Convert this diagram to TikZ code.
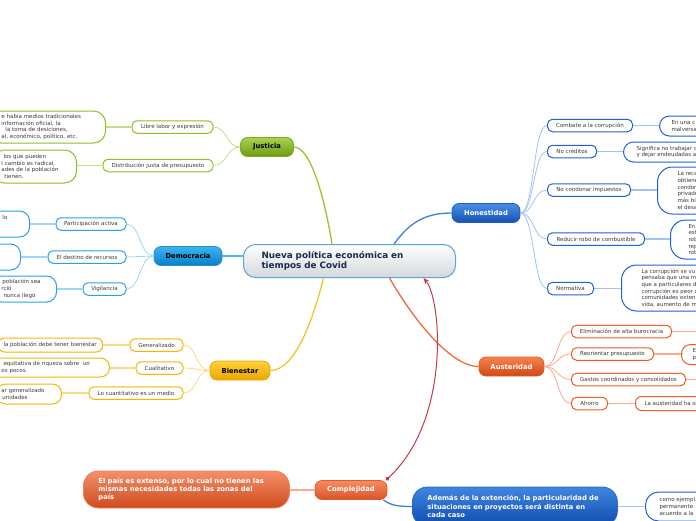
\documentclass[tikz,border=0pt]{standalone}
\usepackage{fontspec}
\setmainfont{DejaVu Sans}
\usetikzlibrary{arrows.meta}

\definecolor{texto}{HTML}{3A3A3A}
\definecolor{marino}{HTML}{172A4F}
\definecolor{centroborde}{HTML}{5AA6DC}
\definecolor{centrogris}{HTML}{D3D8DB}
\definecolor{verdeA}{HTML}{ABD24C}
\definecolor{verdeB}{HTML}{6C9B14}
\definecolor{verdeBorde}{HTML}{7AA81E}
\definecolor{verdeC}{HTML}{8CC21F}
\definecolor{verdeL}{HTML}{C3DF86}
\definecolor{verdeM}{HTML}{99C52A}
\definecolor{celesteA}{HTML}{3DB4EE}
\definecolor{celesteB}{HTML}{0B7DC8}
\definecolor{celesteBorde}{HTML}{1A95DC}
\definecolor{celesteC}{HTML}{25A3E6}
\definecolor{celesteL}{HTML}{9FD6F5}
\definecolor{celesteM}{HTML}{4CB6EC}
\definecolor{amarilloA}{HTML}{FDD23C}
\definecolor{amarilloB}{HTML}{ECA600}
\definecolor{amarilloBorde}{HTML}{E8A800}
\definecolor{amarilloC}{HTML}{F7B500}
\definecolor{amarilloL}{HTML}{FCD98A}
\definecolor{amarilloM}{HTML}{F8C12E}
\definecolor{azulA}{HTML}{4A8FE6}
\definecolor{azulB}{HTML}{1452B3}
\definecolor{azulBorde}{HTML}{1D5CC4}
\definecolor{azulC}{HTML}{1F62D6}
\definecolor{azulL}{HTML}{A3C2F0}
\definecolor{azulM}{HTML}{3F7FD9}
\definecolor{rojoA}{HTML}{F5844F}
\definecolor{rojoB}{HTML}{D24716}
\definecolor{rojoBorde}{HTML}{E25A28}
\definecolor{rojoC}{HTML}{F25A22}
\definecolor{rojoL}{HTML}{F8AB8E}
\definecolor{rojoM}{HTML}{F26A35}
\definecolor{compA}{HTML}{F58D61}
\definecolor{compB}{HTML}{D9532A}
\definecolor{paisA}{HTML}{F3906A}
\definecolor{paisB}{HTML}{CF4A1E}
\definecolor{paisBorde}{HTML}{F08058}
\definecolor{ademasA}{HTML}{3F86E0}
\definecolor{ademasB}{HTML}{0F4CAE}
\definecolor{ademasBorde}{HTML}{2A66C8}
\definecolor{relrojo}{HTML}{C9384B}

\begin{document}
\begin{tikzpicture}[x=1pt, y=-1pt,
    hoja/.style={draw, fill=white, line width=1pt, rounded corners=5pt, inner ysep=0pt, inner xsep=0pt,
                 minimum height=12.5pt, font=\fontsize{5.5}{6.7}\selectfont, text=texto},
    nota/.style={hoja, rounded corners=10pt, align=left, anchor=west},
    rama/.style={draw, line width=0.8pt, rounded corners=7pt, inner sep=0pt, minimum height=19pt,
                 font=\fontsize{6.8}{8}\selectfont\bfseries},
    gordo/.style={draw, line width=0.8pt, rounded corners=15pt, align=left, anchor=west, inner ysep=0pt,
                  inner xsep=15pt, font=\fontsize{6.8}{8.4}\selectfont\bfseries, text=white},
    tallo/.style={line width=1.3pt},
    brote/.style={line width=0.8pt},
    hilo/.style={line width=1.6pt}]
    \useasboundingbox (0,0) rectangle (696,520);
    \clip (0,0) rectangle (696,520);

    % centro
    \node[draw=centroborde, line width=1pt, rounded corners=12pt, top color=white, bottom color=centrogris,
          anchor=west, minimum height=33pt, inner ysep=0pt, inner xsep=18pt, text width=176pt, align=left,
          font=\fontsize{8.8}{10.7}\selectfont\bfseries, text=marino] (centro) at (243,261)
          {Nueva política económica en\\tiempos de Covid};

    % ramas principales
    \node[rama, draw=verdeBorde, top color=verdeA, bottom color=verdeB, minimum width=53pt, text=black] (justicia) at (267,147) {Justicia};
    \node[rama, draw=celesteBorde, top color=celesteA, bottom color=celesteB, minimum width=68pt, text=black] (democracia) at (188,256) {Democracia};
    \node[rama, draw=amarilloBorde, top color=amarilloA, bottom color=amarilloB, minimum width=60pt, text=black] (bienestar) at (240,370.5) {Bienestar};
    \node[rama, draw=azulBorde, top color=azulA, bottom color=azulB, minimum width=68pt, text=white] (honestidad) at (486,213) {Honestidad};
    \node[rama, draw=rojoBorde, top color=rojoA, bottom color=rojoB, minimum width=65pt, text=white] (austeridad) at (511.5,366.5) {Austeridad};
    \node[rama, draw=rojoBorde, top color=compA, bottom color=compB, minimum width=72pt, text=white] (complejidad) at (351,490) {Complejidad};

    % Justicia
    \node[hoja, draw=verdeC, minimum width=81pt] (libre) at (172.5,127) {Libre labor y expresión};
    \node[hoja, draw=verdeC, minimum width=110pt] (distribucion) at (158,165.5) {Distribución justa de presupuesto};
    \node[nota, draw=verdeC, minimum height=32pt, rounded corners=12pt, text width=92pt, inner xsep=12pt] (libre-nota) at (-11,127)
        {e había medios tradicionales\\información oficial, la\\\hspace*{4pt}la toma de desiciones,\\al, económico, político, etc.};
    \node[nota, draw=verdeC, minimum height=33pt, rounded corners=12pt, text width=66pt, inner xsep=9pt] (distribucion-nota) at (-8,166.5)
        {\hspace*{2pt}los que pueden\\l cambio es radical,\\ades de la población\\\hspace*{3pt}tienen.};

    % Democracia
    \node[hoja, draw=celesteC, minimum width=70pt] (participacion) at (91,224) {Participación activa};
    \node[hoja, draw=celesteC, minimum width=78pt] (destino) at (87,257) {El destino de recursos};
    \node[hoja, draw=celesteC, minimum width=43pt] (vigilancia) at (104.5,289) {Vigilancia};
    \node[nota, draw=celesteC, minimum height=26pt, text width=10pt, inner xsep=18pt] (participacion-nota) at (-17,224)
        {\hspace*{1pt}lo\\\mbox{}\\\mbox{}};
    \node[nota, draw=celesteC, minimum height=26pt, text width=4pt, inner xsep=15pt] (destino-nota) at (-14,257) {};
    \node[nota, draw=celesteC, minimum height=26pt, text width=45pt, inner xsep=10pt] (vigilancia-nota) at (-9,289)
        {\hspace*{1pt}población sea\\rció\\\hspace*{2pt}nunca llegó};

    % Bienestar
    \node[hoja, draw=amarilloC, minimum width=53pt] (generalizado) at (156.5,345) {Generalizado};
    \node[hoja, draw=amarilloC, minimum width=47pt] (cualitativo) at (159.5,368) {Cualitativo};
    \node[hoja, draw=amarilloC, minimum width=94pt] (cuantitativo) at (136,393) {Lo cuantitativo es un medio};
    \node[nota, draw=amarilloC, minimum height=14pt, rounded corners=6pt, text width=98pt, inner xsep=3pt] (generalizado-nota) at (-2,345)
        {\hspace*{2pt}la población debe tener bienestar};
    \node[nota, draw=amarilloC, minimum height=19pt, rounded corners=9pt, text width=96pt, inner xsep=12pt] (cualitativo-nota) at (-11,367.5)
        {\hspace*{2pt}equitativa de riqueza sobre \ un\\os pocos.};
    \node[nota, draw=amarilloC, minimum height=20pt, rounded corners=9pt, text width=55pt, inner xsep=5pt] (cuantitativo-nota) at (-4,394)
        {ar generalizado\\\hspace*{1pt}unidades};

    % Honestidad
    \node[hoja, draw=azulC, minimum width=85pt, anchor=west] (combate) at (547,125.5) {Combate a la corrupción};
    \node[hoja, draw=azulC, minimum width=49pt, anchor=west] (creditos) at (547,151.5) {No créditos};
    \node[hoja, draw=azulC, minimum width=83pt, anchor=west] (condonar) at (547,190) {No condonar impuestos};
    \node[hoja, draw=azulC, minimum width=97pt, anchor=west] (combustible) at (547,239) {Reducir robo de combustible};
    \node[hoja, draw=azulC, minimum width=46pt, anchor=west] (normativa) at (547,288.5) {Normativa};
    \node[nota, draw=azulC, minimum height=20pt, inner xsep=12pt] (combate-nota) at (659,126) {En una c\\malversa};
    \node[nota, draw=azulC, minimum height=20pt, inner xsep=13pt] (creditos-nota) at (623,152)
        {Significa no trabajar c\\y dejar endeudadas a};
    \node[nota, draw=azulC, minimum height=47pt, rounded corners=15pt, inner xsep=20pt] (condonar-nota) at (657,190.5)
        {La reca\\obtiene\\condor\\privado\\más bi\\el desa};
    \node[nota, draw=azulC, minimum height=39pt, rounded corners=15pt, inner xsep=18pt] (combustible-nota) at (670,239.5)
        {En\\est\\rob\\rep\\rob};
    \node[nota, draw=azulC, minimum height=46pt, rounded corners=15pt, inner xsep=20pt] (normativa-nota) at (621,288)
        {La corrupción se vu\\pensaba que una ma\\que a particulares d\\corrupción es peor c\\comunidades exten\\vida, aumento de m};

    % Austeridad
    \node[hoja, draw=rojoC, minimum width=100pt, anchor=west] (eliminacion) at (571,331.5) {Eliminación de alta burocracia};
    \node[hoja, draw=rojoC, minimum width=82pt, anchor=west] (reorientar) at (571,354) {Reorientar presupuesto};
    \node[hoja, draw=rojoC, minimum width=114pt, anchor=west] (gastos) at (571,379.5) {Gastos coordinados y consolidados};
    \node[hoja, draw=rojoC, minimum width=36pt, anchor=west] (ahorro) at (571,403.5) {Ahorro};
    \node[nota, draw=rojoC, minimum height=20pt, rounded corners=9pt, inner xsep=11pt] (reorientar-nota) at (681,354.5) {E\\p};
    \node[nota, draw=rojoC, minimum height=14pt, rounded corners=6pt, inner xsep=9pt] (ahorro-nota) at (635,403.5) {La austeridad ha si};
    \coordinate (eliminacion-fin) at (700,331.5);
    \coordinate (gastos-fin) at (700,379.5);

    % Complejidad
    \node[gordo, draw=paisBorde, top color=paisA, bottom color=paisB, minimum height=37pt, text width=176pt] (elpais) at (83,489.5)
        {El país es extenso, por lo cual no tienen las\\mismas necesidades todas las zonas del\\país};
    \node[gordo, draw=ademasBorde, top color=ademasA, bottom color=ademasB, minimum height=39pt, text width=175pt] (ademas) at (412,506.5)
        {Además de la extención, la particularidad de\\situaciones en proyectos será distinta en\\cada caso};
    \node[nota, draw=azulC, minimum height=29pt, rounded corners=13pt, inner xsep=14pt] (ademas-nota) at (645,506.5)
        {como ejempl\\permanente\\acuerdo a la};

    % conectores
    \draw[tallo, verdeM] ([xshift=-17.5pt]centro.north) .. controls +(-8,-50) and +(16,0) .. (justicia.east);
    \draw[tallo, azulM] ([xshift=44.5pt]centro.north) .. controls +(16,-22) and +(-26,0) .. (honestidad.west);
    \draw[tallo, celesteM] (centro.west |- democracia.east) -- (democracia.east);
    \draw[tallo, amarilloM] ([xshift=-26pt]centro.south) .. controls +(-10,40) and +(25,0) .. (bienestar.east);
    \draw[tallo, rojoM] ([xshift=40pt]centro.south) .. controls +(20,35) and +(-30,0) .. (austeridad.west);

    \foreach \hijo in {libre, distribucion}
        \draw[brote, verdeL] (justicia.west) .. controls +(-14,0) and +(14,0) .. (\hijo.east);
    \foreach \hijo in {participacion, destino, vigilancia}
        \draw[brote, celesteL] (democracia.west) .. controls +(-14,0) and +(14,0) .. (\hijo.east);
    \foreach \hijo in {generalizado, cualitativo, cuantitativo}
        \draw[brote, amarilloL] (bienestar.west) .. controls +(-14,0) and +(14,0) .. (\hijo.east);
    \foreach \hijo in {combate, creditos, condonar, combustible, normativa}
        \draw[brote, azulL] (honestidad.east) .. controls +(14,0) and +(-14,0) .. (\hijo.west);
    \foreach \hijo in {eliminacion, reorientar, gastos, ahorro}
        \draw[brote, rojoL] (austeridad.east) .. controls +(14,0) and +(-14,0) .. (\hijo.west);

    \foreach \hijo in {libre, distribucion}
        \draw[hilo, verdeL] (\hijo.west) -- (\hijo.west -| \hijo-nota.east);
    \foreach \hijo in {participacion, destino, vigilancia}
        \draw[hilo, celesteL] (\hijo.west) -- (\hijo.west -| \hijo-nota.east);
    \foreach \hijo in {generalizado, cualitativo, cuantitativo}
        \draw[hilo, amarilloL] (\hijo.west) -- (\hijo.west -| \hijo-nota.east);
    \foreach \hijo in {combate, creditos, condonar, combustible, normativa}
        \draw[hilo, azulL] (\hijo.east) -- (\hijo.east -| \hijo-nota.west);
    \foreach \hijo in {reorientar, ahorro}
        \draw[hilo, rojoL] (\hijo.east) -- (\hijo.east -| \hijo-nota.west);
    \foreach \hijo in {eliminacion, gastos}
        \draw[hilo, rojoL] (\hijo.east) -- (\hijo-fin);

    \draw[hilo, rojoL] (complejidad.west) -- (complejidad.west -| elpais.east);
    \draw[tallo, azulM] ([xshift=-4pt]complejidad.south east) .. controls +(8,6) and +(-12,0) .. (ademas.west);
    \draw[hilo, azulL] (ademas.east) -- (ademas-nota.west);

    % relacion
    \draw[line width=1pt, relrojo, {Circle[length=4pt]}-{Stealth[length=6pt,width=5pt]}]
        ([xshift=35pt]complejidad.north) .. controls +(65,-60) and +(18,21) .. ([xshift=74pt]centro.south);
\end{tikzpicture}
\end{document}
